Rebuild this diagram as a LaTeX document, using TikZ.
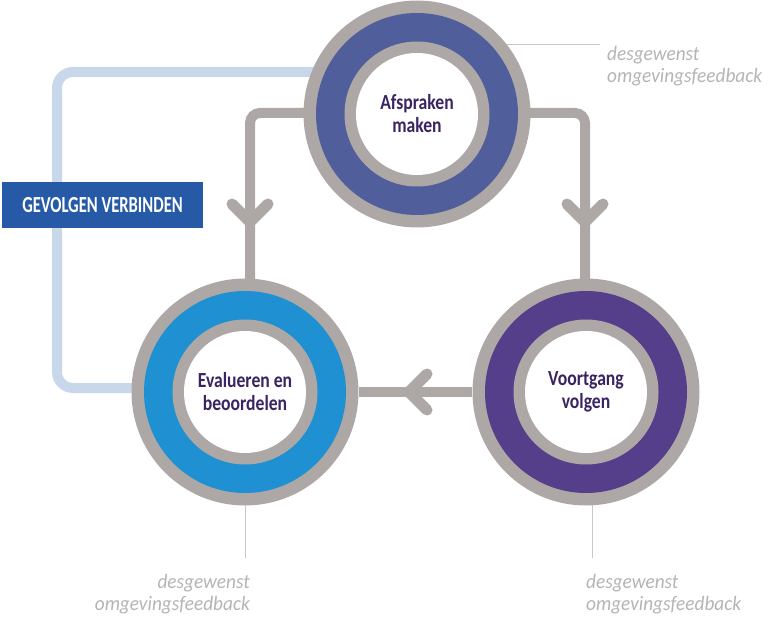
\documentclass[tikz,border=0pt]{standalone}
\usepackage{fontspec}
\setmainfont{Carlito}
\newfontfamily\labelfont[FakeStretch=0.82]{Carlito}
\newfontfamily\tagfont[FakeStretch=0.72]{Carlito}
\newfontfamily\notefont[FakeStretch=0.94]{Carlito}
\usetikzlibrary{calc}

\definecolor{ringgray}{HTML}{ADA8A6}
\definecolor{topblue}{HTML}{505F9B}
\definecolor{evalblue}{HTML}{1F90D1}
\definecolor{voortpurple}{HTML}{553F8B}
\definecolor{labelpurple}{HTML}{3A2462}
\definecolor{linkblue}{HTML}{C9D7EA}
\definecolor{boxblue}{HTML}{265AA7}
\definecolor{notegray}{HTML}{B4B4B4}
\definecolor{leadgray}{HTML}{C8C8C8}

\pgfdeclarelayer{behind}
\pgfsetlayers{behind,main}

\tikzset{
  ringnode/.style={circle, fill=ringgray, minimum size=227pt, inner sep=0pt,
    path picture={
      \fill[#1] (path picture bounding box.center) circle (101pt);
      \fill[ringgray] (path picture bounding box.center) circle (72.5pt);
      \fill[white] (path picture bounding box.center) circle (61pt);
    },
    font=\labelfont\bfseries\fontsize{21.5}{23}\selectfont,
    text=labelpurple, align=center},
  flow/.style={draw=ringgray, line width=10pt, rounded corners=10pt},
  chev/.style={draw=ringgray, line width=11pt, line cap=round, line join=round},
  link/.style={draw=linkblue, line width=10pt, rounded corners=16pt},
  lead/.style={draw=leadgray, line width=1pt},
  tagbox/.style={fill=boxblue, text=white, minimum width=201pt, minimum height=46pt,
    inner sep=0pt, font=\tagfont\bfseries\fontsize{23}{24}\selectfont},
  note/.style={text=notegray, inner sep=0pt, font=\notefont\itshape\fontsize{20.5}{22}\selectfont}
}

\begin{document}
\begin{tikzpicture}[x=1pt, y=-1pt]
\useasboundingbox (0,0) rectangle (774,620);

% the three stages
\node[ringnode=topblue] (plan) at (417,114) {Afspraken\\maken};
\node[ringnode=evalblue] (eval) at (245,392) {Evalueren en\\beoordelen};
\node[ringnode=voortpurple] (track) at (586,392) {Voortgang\\volgen};

% label on the feedback loop
\node[tagbox] (tag) at (102.5,205) {GEVOLGEN VERBINDEN};

% feedback notes
\node[note, anchor=north west, align=left] (noteT) at (607,46) {desgewenst\\omgevingsfeedback};
\node[note, anchor=north east, align=right] (noteL) at (250,574) {desgewenst\\omgevingsfeedback};
\node[note, anchor=north west, align=left] (noteR) at (586,574) {desgewenst\\omgevingsfeedback};

\coordinate (leadT) at (600,45);
\coordinate (linkbend) at (57,300);
\coordinate (tipL) at (250,222);
\coordinate (tipR) at (585,222);
\coordinate (tipB) at (409,392);

\begin{pgfonlayer}{behind}
  % outer loop from planning back to evaluation
  \draw[link] ([yshift=42pt]plan.center) -| (linkbend) |- ([yshift=4pt]eval.center);
  % cycle connectors
  \draw[flow] ([yshift=1pt]plan.center) -| ([xshift=5pt]eval.center);
  \draw[flow] ([yshift=1pt]plan.center) -| ([xshift=-1pt]track.center);
  \draw[flow] (track) -- (eval);
  % lead lines to the notes
  \draw[lead] (plan.center |- leadT) -- (leadT);
  \draw[lead] (eval.center) -- ++(0,166);
  \draw[lead] ([xshift=6pt]track.center) -- ++(0,166);
\end{pgfonlayer}

% direction chevrons
\draw[chev] (tipL) ++(-18,-18) -- (tipL) -- ++(18,-18);
\draw[chev] (tipR) ++(-18,-18) -- (tipR) -- ++(18,-18);
\draw[chev] (tipB) ++(18,-18) -- (tipB) -- ++(18,18);
\end{tikzpicture}
\end{document}
